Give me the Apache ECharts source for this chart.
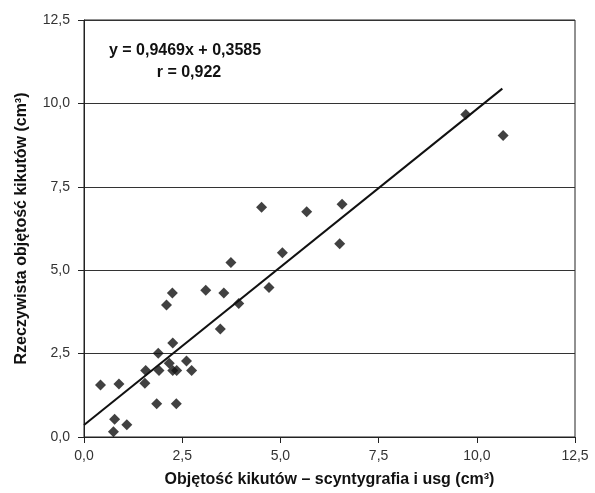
<!DOCTYPE html>
<html>
<head>
<meta charset="utf-8">
<script src="https://cdn.jsdelivr.net/npm/echarts@6/dist/echarts.min.js"></script>
<style>html,body{margin:0;padding:0;background:#fff}#c{width:595px;height:493px}</style>
</head>
<body>
<div id="c"></div>
<script>
var xValues = [0.42, 0.75, 0.78, 0.89, 1.09, 1.55, 1.57, 1.85, 1.89, 1.91, 2.10, 2.17, 2.25, 2.26, 2.26, 2.35, 2.36, 2.61, 2.74, 3.10, 3.47, 3.56, 3.74, 3.94, 4.52, 4.71, 5.05, 5.67, 6.51, 6.57, 9.72, 10.67];
var yValues = [1.56, 0.16, 0.53, 1.59, 0.37, 1.61, 1.99, 1.00, 2.51, 1.99, 3.96, 2.21, 4.32, 2.82, 1.99, 1.00, 1.99, 2.28, 1.99, 4.40, 3.24, 4.32, 5.23, 4.00, 6.89, 4.48, 5.52, 6.75, 5.79, 6.98, 9.67, 9.04];
var trendSlope = 0.9469;
var trendIntercept = 0.3585;
var trendXRange = [0, 10.65];
var equationText = 'y = 0,9469x + 0,3585';
var rText = 'r = 0,922';

var points = xValues.map(function (x, i) { return [x, yValues[i]]; });
var trend = trendXRange.map(function (x) { return [x, trendSlope * x + trendIntercept]; });
function fmt(v) { return v.toFixed(1).replace('.', ','); }

var chart = echarts.init(document.getElementById('c'), null, {renderer: 'canvas'});
var font = 'Liberation Sans, Arial, sans-serif';
chart.setOption({
  animation: false,
  backgroundColor: '#fff',
  grid: {left: 84, right: 20, top: 20, bottom: 56, show: true, borderColor: '#222', borderWidth: 1},
  xAxis: {
    type: 'value', min: 0, max: 12.5, interval: 2.5,
    name: 'Objętość kikutów – scyntygrafia i usg (cm³)',
    nameLocation: 'middle', nameGap: 35,
    nameTextStyle: {fontFamily: font, fontSize: 16, fontWeight: 'bold', color: '#111'},
    axisLine: {lineStyle: {color: '#222', width: 1}},
    axisTick: {show: true, inside: false, length: 6, lineStyle: {color: '#222'}},
    axisLabel: {formatter: fmt, fontFamily: font, fontSize: 14, color: '#333', margin: 12},
    splitLine: {show: false}
  },
  yAxis: {
    type: 'value', min: 0, max: 12.5, interval: 2.5,
    name: 'Rzeczywista objętość kikutów (cm³)',
    nameLocation: 'middle', nameGap: 54,
    nameTextStyle: {fontFamily: font, fontSize: 16, fontWeight: 'bold', color: '#111'},
    axisLine: {show: true, lineStyle: {color: '#222', width: 1}},
    axisTick: {show: true, inside: false, length: 6, lineStyle: {color: '#222'}},
    axisLabel: {formatter: fmt, fontFamily: font, fontSize: 14, color: '#333', margin: 14},
    splitLine: {show: true, lineStyle: {color: '#333', width: 1}}
  },
  graphic: [
    {type: 'text', x: 185, y: 51, style: {text: equationText, font: 'bold 16px ' + font, fill: '#111', textAlign: 'center', textVerticalAlign: 'middle'}},
    {type: 'text', x: 189, y: 73, style: {text: rText, font: 'bold 16px ' + font, fill: '#111', textAlign: 'center', textVerticalAlign: 'middle'}}
  ],
  series: [
    {type: 'line', data: trend, symbol: 'none', lineStyle: {color: '#111', width: 2}, z: 3},
    {type: 'scatter', data: points, symbol: 'diamond', symbolSize: [11, 11], itemStyle: {color: '#111'}, z: 4}
  ]
});
</script>
</body>
</html>
